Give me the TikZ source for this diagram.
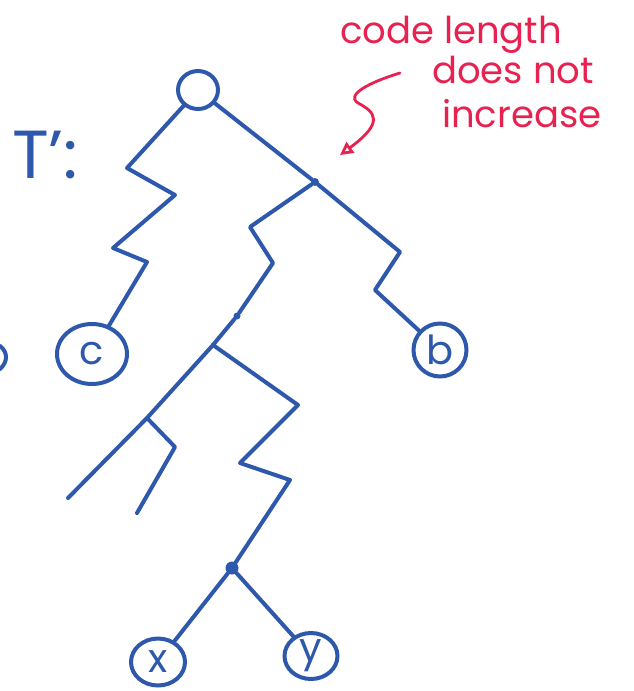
\documentclass[tikz,border=0pt]{standalone}
\usepackage{fontspec}
\setmainfont{Poppins}
\usetikzlibrary{shapes.geometric,arrows.meta}
\definecolor{pen}{RGB}{45,88,172}
\definecolor{redpen}{RGB}{232,34,80}
\begin{document}
\begin{tikzpicture}[x=1pt,y=-1pt,
  edge/.style={draw=pen,line width=4pt,line join=round,line cap=round},
  leaf/.style={ellipse,draw=pen,line width=4pt,inner sep=0pt,text=pen,
    font=\fontsize{40}{40}\selectfont},
  jdot/.style={circle,fill=pen,inner sep=0pt,minimum size=#1},
  jdot/.default=8pt,
  note/.style={text=redpen,anchor=base west,inner sep=0pt,
    font=\fontsize{37}{37}\selectfont}]
\useasboundingbox (0,0) rectangle (633,691);

% tree nodes
\node[leaf,minimum width=40pt,minimum height=38pt] (root) at (198,90) {};
\node[leaf,minimum width=70pt,minimum height=60pt] (c) at (92,354) {c};
\node[leaf,minimum width=53pt,minimum height=53pt] (b) at (440,350) {b};
\node[leaf,minimum width=54pt,minimum height=47pt] (x) at (158,662) {x};
\node[leaf,minimum width=53pt,minimum height=46pt] (y) at (311,656) {y};

% junctions
\node[jdot] (j1) at (315,182) {};
\coordinate (j2) at (213,345);
\node[jdot=13pt] (j3) at (232,568) {};
\coordinate (j4) at (147,418);
\node[jdot=7pt] (blob) at (237,316) {};

% zig-zag edges (long paths)
\draw[edge] (root) -- (127,168) -- (175,195) -- (113,248) -- (147,262) -- (c);
\draw[edge] (root) -- (j1);
\draw[edge] (j1) -- (400,252) -- (375,290) -- (b);
\draw[edge] (j1) -- (250,227) -- (273,263) -- (blob) -- (j2);
\draw[edge] (j2) -- (298,405) -- (240,463) -- (290,480) -- (j3);
\draw[edge] (j2) -- (j4) -- (68,498);
\draw[edge] (j4) -- (175,447) -- (137,513);
\draw[edge] (j3) -- (x);
\draw[edge] (j3) -- (y);

% node cut off at the left edge
\draw[edge] (0,346) .. controls (8,352) and (8,362) .. (0,369);

% tree name
\node[text=pen,anchor=base west,inner sep=0pt,font=\fontsize{68}{68}\selectfont]
  (tname) at (12,178) {T':};

% annotation
\node[note] (n1) at (340,43) {code length};
\node[note] (n2) at (432,83) {does not};
\node[note] (n3) at (442,127) {increase};
\coordinate (a0) at (400,73);
\coordinate (a1) at (340,155);
\draw[draw=redpen,line width=2.8pt,line cap=round,line join=round,
  -{Triangle[open,length=13pt,width=13pt]}]
  (a0) .. controls (370,82) and (345,95) .. (358,103)
       .. controls (375,112) and (385,122) .. (a1);
\end{tikzpicture}
\end{document}
